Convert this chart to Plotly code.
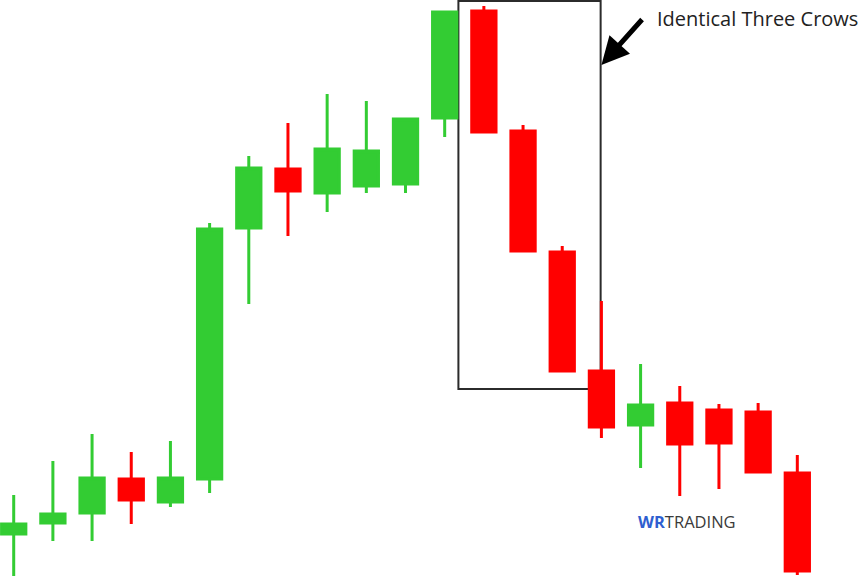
import plotly.graph_objects as go

# Candle data (price units; higher = up)
sessions = list(range(21))
open_ = [42, 53, 63, 97, 74, 97, 348, 407, 383, 390, 392, 458, 565, 445, 324, 205, 151, 173, 166, 164, 103]
close = [52, 62, 98, 76, 98, 347, 408, 385, 427, 425, 457, 564, 444, 325, 205, 149, 171, 132, 133, 104, 5]
high = [81, 115, 142, 124, 135, 353, 420, 453, 482, 475, 457, 565, 570, 451, 330, 275, 212, 190, 172, 173, 121]
low = [0, 35, 35, 52, 69, 83, 272, 340, 364, 383, 383, 439, 444, 325, 205, 138, 108, 80, 87, 104, 1]

pattern_label = "Identical Three Crows"
brand_a = "WR"
brand_b = "TRADING"

GREEN = "#33CC33"
RED = "#FF0000"

fig = go.Figure(go.Candlestick(
    x=sessions, open=open_, high=high, low=low, close=close,
    increasing=dict(line=dict(color=GREEN, width=3), fillcolor=GREEN),
    decreasing=dict(line=dict(color=RED, width=3), fillcolor=RED),
    whiskerwidth=0,
    hoverinfo="skip",
))

# Box around the three crows
fig.add_shape(type="rect", xref="x", yref="y",
              x0=11.35, x1=14.98, y0=187, y1=575,
              line=dict(color="#2b2b2b", width=2), fillcolor="rgba(0,0,0,0)",
              layer="below")

# Arrow
fig.add_annotation(xref="x", yref="y", x=15.0, y=511,
                   ax=42, ay=-47, axref="pixel", ayref="pixel",
                   text="", showarrow=True, arrowhead=2, arrowsize=1.1,
                   arrowwidth=5, arrowcolor="#000000", standoff=0)

# Label
fig.add_annotation(xref="paper", yref="paper", x=655 / 860, y=1 - 18 / 576,
                   xanchor="left", yanchor="middle", showarrow=False,
                   text=pattern_label,
                   font=dict(family="Open Sans", size=20, color="#222222"))

# Watermark
fig.add_annotation(xref="paper", yref="paper", x=636 / 860, y=1 - 521 / 576,
                   xanchor="left", yanchor="middle", showarrow=False,
                   text=f"<b><span style='color:#2f5fd0'>{brand_a}</span></b>"
                        f"<span style='color:#3a3a3a'>{brand_b}</span>",
                   font=dict(family="Open Sans", size=16.5))

fig.update_layout(
    width=860, height=576,
    margin=dict(l=0, r=0, t=0, b=0),
    paper_bgcolor="white", plot_bgcolor="white",
    showlegend=False,
    boxgap=0.38, boxgroupgap=0,
    xaxis=dict(range=[-0.35, 21.6], visible=False, rangeslider=dict(visible=False),
               fixedrange=True),
    yaxis=dict(range=[0, 576], visible=False, fixedrange=True),
)

fig.write_html("out.html", config={"displayModeBar": False},
               post_script="document.body.style.margin='0';")
